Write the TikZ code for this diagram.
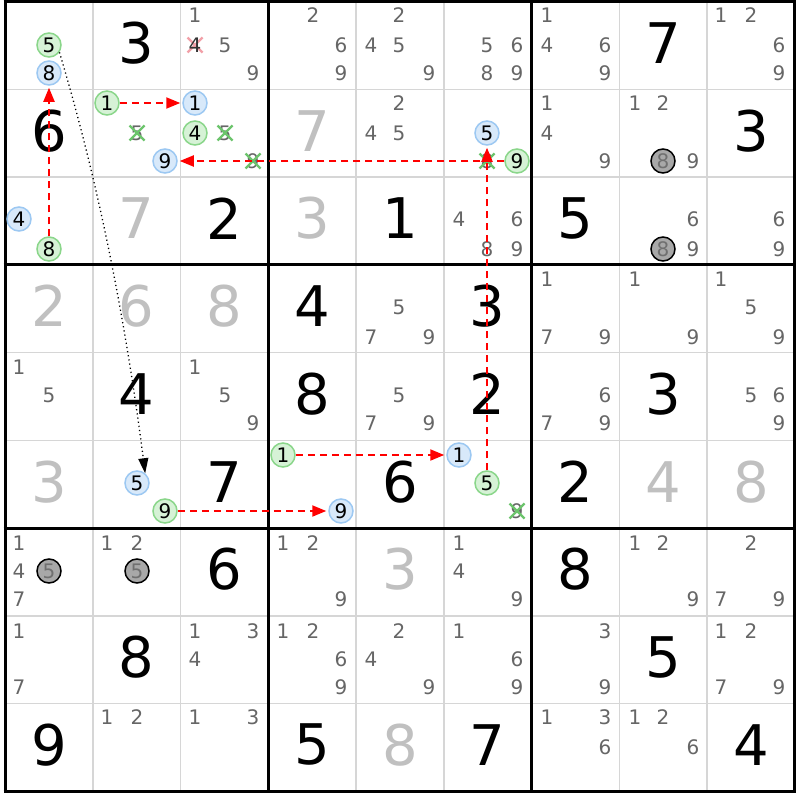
\documentclass[tikz,border=0pt]{standalone}
\usepackage{fontspec}
\setmainfont{DejaVu Sans}
\usetikzlibrary{arrows.meta}
\definecolor{candc}{HTML}{666666}
\definecolor{givgrey}{HTML}{C0C0C0}
\definecolor{gfill}{HTML}{D6F2D6}
\definecolor{gstroke}{HTML}{8AD68A}
\definecolor{bfill}{HTML}{D8E9FA}
\definecolor{bstroke}{HTML}{9CC8F2}
\definecolor{nfill}{HTML}{A8A8A8}
\definecolor{ntext}{HTML}{707070}
\definecolor{gridc}{HTML}{D6D6D6}
\definecolor{xgreen}{HTML}{6CC46C}
\definecolor{xpink}{HTML}{F2A0A8}
\definecolor{linkred}{HTML}{FF0000}
\newcommand\SetPos[3]{%
  \pgfmathsetmacro\mx{2*round((5+(#2-0.5)*87.75+(mod(#3-1,3)-1)*29-1)/2)+1}%
  \pgfmathsetmacro\my{2*round((0.5+(#1-0.5)*87.75+(div(#3-1,3)-1)*28.5-1)/2)+1}}
\newcommand\Cands[3]{\foreach \d in {#3}{\SetPos{#1}{#2}{\d}%
  \node[cand] (c#1#2\d) at (\mx,\my) {\d};}}
\newcommand\Circ[4]{\SetPos{#1}{#2}{#3}%
  \node[#4] (k#1#2#3) at (\mx,\my) {#3};}
\newcommand\Xc[4]{\SetPos{#1}{#2}{#3}%
  \node[cand] (x#1#2#3) at (\mx,\my) {#3};
  \draw[#4, line width=2.2pt] (x#1#2#3.center) ++(-7.5,-7.5) -- ++(15,15)
    (x#1#2#3.center) ++(7.5,-7.5) -- ++(-15,15);}
\newcommand\Giv[4]{%
  \pgfmathsetmacro\mx{5+(#2-0.5)*87.75}%
  \pgfmathsetmacro\my{1.5+(#1-0.5)*87.75-2.5}%
  \node[bigd, text=#4] (g#1#2) at (\mx,\my) {#3};}
\begin{document}
\begin{tikzpicture}[x=1pt,y=-1pt,
  cand/.style={font=\fontsize{20}{20}\selectfont, text=candc, inner sep=0pt},
  bigd/.style={font=\fontsize{56}{56}\selectfont, inner sep=0pt},
  circbase/.style={circle, line width=1.5pt, minimum size=24pt, inner sep=0pt, font=\fontsize{20}{20}\selectfont},
  gcirc/.style={circbase, draw=gstroke, fill=gfill, text=black},
  bcirc/.style={circbase, draw=bstroke, fill=bfill, text=black},
  ncirc/.style={circbase, draw=black, fill=nfill, text=ntext},
  thingrid/.style={draw=gridc, line width=1.5pt},
  thickgrid/.style={draw=black, line width=3pt},
  redlink/.style={draw=linkred, line width=2pt, dash pattern=on 7pt off 5pt, -{Triangle[length=14pt,width=11pt]}, shorten >=2pt},
  dotlink/.style={draw=black, line width=1.3pt, dash pattern=on 1.2pt off 3pt, -{Triangle[length=15pt,width=10pt]}}]
\fill[white] (0,0) rectangle (800,800);
\useasboundingbox (0,0) rectangle (800,800);
% grid
\foreach \i in {1,2,4,5,7,8} {
  \draw[thingrid] ({5+\i*87.75},1.5) -- ({5+\i*87.75},791.25);
  \draw[thingrid] (5,{1.5+\i*87.75}) -- (794.75,{1.5+\i*87.75});
}
\foreach \i in {0,3,6,9} {
  \draw[thickgrid] ({5+\i*87.75},0) -- ({5+\i*87.75},792.75);
  \draw[thickgrid] (3.5,{1.5+\i*87.75}) -- (796.25,{1.5+\i*87.75});
}
% row 1
\Circ{1}{1}{5}{gcirc} \Circ{1}{1}{8}{bcirc}
\Giv{1}{2}{3}{black}
\SetPos{1}{3}{4}
\draw[xpink, line width=2.2pt] ({\mx-7.5},{\my-7.5}) -- ({\mx+7.5},{\my+7.5}) ({\mx+7.5},{\my-7.5}) -- ({\mx-7.5},{\my+7.5});
\node[cand, text=black!80] (c134) at (\mx,\my) {4};
\Cands{1}{3}{1,5,9}
\Cands{1}{4}{2,6,9}
\Cands{1}{5}{2,4,5,9}
\Cands{1}{6}{5,6,8,9}
\Cands{1}{7}{1,4,6,9}
\Giv{1}{8}{7}{black}
\Cands{1}{9}{1,2,6,9}
% row 2
\Giv{2}{1}{6}{black}
\Circ{2}{2}{1}{gcirc} \Xc{2}{2}{5}{xgreen} \Circ{2}{2}{9}{bcirc}
\Circ{2}{3}{1}{bcirc} \Circ{2}{3}{4}{gcirc} \Xc{2}{3}{5}{xgreen} \Xc{2}{3}{9}{xgreen}
\Giv{2}{4}{7}{givgrey}
\Cands{2}{5}{2,4,5}
\Circ{2}{6}{5}{bcirc} \Xc{2}{6}{8}{xgreen} \Circ{2}{6}{9}{gcirc}
\Cands{2}{7}{1,4,9}
\Cands{2}{8}{1,2,9} \Circ{2}{8}{8}{ncirc}
\Giv{2}{9}{3}{black}
% row 3
\Circ{3}{1}{4}{bcirc} \Circ{3}{1}{8}{gcirc}
\Giv{3}{2}{7}{givgrey}
\Giv{3}{3}{2}{black}
\Giv{3}{4}{3}{givgrey}
\Giv{3}{5}{1}{black}
\Cands{3}{6}{4,6,8,9}
\Giv{3}{7}{5}{black}
\Cands{3}{8}{6,9} \Circ{3}{8}{8}{ncirc}
\Cands{3}{9}{6,9}
% row 4
\Giv{4}{1}{2}{givgrey}
\Giv{4}{2}{6}{givgrey}
\Giv{4}{3}{8}{givgrey}
\Giv{4}{4}{4}{black}
\Cands{4}{5}{5,7,9}
\Giv{4}{6}{3}{black}
\Cands{4}{7}{1,7,9}
\Cands{4}{8}{1,9}
\Cands{4}{9}{1,5,9}
% row 5
\Cands{5}{1}{1,5}
\Giv{5}{2}{4}{black}
\Cands{5}{3}{1,5,9}
\Giv{5}{4}{8}{black}
\Cands{5}{5}{5,7,9}
\Giv{5}{6}{2}{black}
\Cands{5}{7}{6,7,9}
\Giv{5}{8}{3}{black}
\Cands{5}{9}{5,6,9}
% row 6
\Giv{6}{1}{3}{givgrey}
\Circ{6}{2}{5}{bcirc} \Circ{6}{2}{9}{gcirc}
\Giv{6}{3}{7}{black}
\Circ{6}{4}{1}{gcirc} \Circ{6}{4}{9}{bcirc}
\Giv{6}{5}{6}{black}
\Circ{6}{6}{1}{bcirc} \Circ{6}{6}{5}{gcirc} \Xc{6}{6}{9}{xgreen}
\Giv{6}{7}{2}{black}
\Giv{6}{8}{4}{givgrey}
\Giv{6}{9}{8}{givgrey}
% row 7
\Cands{7}{1}{1,4,7} \Circ{7}{1}{5}{ncirc}
\Cands{7}{2}{1,2} \Circ{7}{2}{5}{ncirc}
\Giv{7}{3}{6}{black}
\Cands{7}{4}{1,2,9}
\Giv{7}{5}{3}{givgrey}
\Cands{7}{6}{1,4,9}
\Giv{7}{7}{8}{black}
\Cands{7}{8}{1,2,9}
\Cands{7}{9}{2,7,9}
% row 8
\Cands{8}{1}{1,7}
\Giv{8}{2}{8}{black}
\Cands{8}{3}{1,3,4}
\Cands{8}{4}{1,2,6,9}
\Cands{8}{5}{2,4,9}
\Cands{8}{6}{1,6,9}
\Cands{8}{7}{3,9}
\Giv{8}{8}{5}{black}
\Cands{8}{9}{1,2,7,9}
% row 9
\Giv{9}{1}{9}{black}
\Cands{9}{2}{1,2}
\Cands{9}{3}{1,3}
\Giv{9}{4}{5}{black}
\Giv{9}{5}{8}{givgrey}
\Giv{9}{6}{7}{black}
\Cands{9}{7}{1,3,6}
\Cands{9}{8}{1,2,6}
\Giv{9}{9}{4}{black}
% links
\draw[redlink] (k318) -- (k118);
\draw[redlink] (k221) -- (k231);
\draw[redlink] (k269) -- (k229);
\draw[redlink] (k665) -- (k265);
\draw[redlink] (k641) -- (k661);
\draw[redlink] (k629) -- (k649);
\draw[dotlink] (k115.-35) .. controls +(42,140) and +(-18,-140) .. (k625.50);
\end{tikzpicture}
\end{document}
